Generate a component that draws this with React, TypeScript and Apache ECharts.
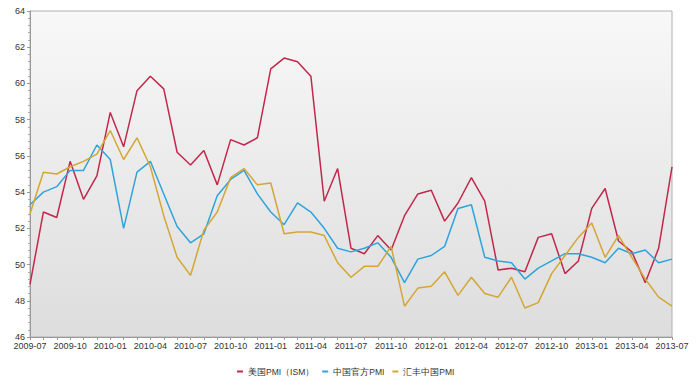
import React, { useEffect, useRef } from "react";
import * as echarts from "echarts";

const months: string[] = [
  "2009-07","2009-08","2009-09","2009-10","2009-11","2009-12",
  "2010-01","2010-02","2010-03","2010-04","2010-05","2010-06","2010-07","2010-08","2010-09","2010-10","2010-11","2010-12",
  "2011-01","2011-02","2011-03","2011-04","2011-05","2011-06","2011-07","2011-08","2011-09","2011-10","2011-11","2011-12",
  "2012-01","2012-02","2012-03","2012-04","2012-05","2012-06","2012-07","2012-08","2012-09","2012-10","2012-11","2012-12",
  "2013-01","2013-02","2013-03","2013-04","2013-05","2013-06","2013-07",
];

const usIsm: number[] = [
  48.9, 52.9, 52.6, 55.7, 53.6, 54.9,
  58.4, 56.5, 59.6, 60.4, 59.7, 56.2, 55.5, 56.3, 54.4, 56.9, 56.6, 57.0,
  60.8, 61.4, 61.2, 60.4, 53.5, 55.3, 50.9, 50.6, 51.6, 50.8, 52.7, 53.9,
  54.1, 52.4, 53.4, 54.8, 53.5, 49.7, 49.8, 49.6, 51.5, 51.7, 49.5, 50.2,
  53.1, 54.2, 51.3, 50.7, 49.0, 50.9, 55.4,
];

const chinaOfficial: number[] = [
  53.3, 54.0, 54.3, 55.2, 55.2, 56.6,
  55.8, 52.0, 55.1, 55.7, 53.9, 52.1, 51.2, 51.7, 53.8, 54.7, 55.2, 53.9,
  52.9, 52.2, 53.4, 52.9, 52.0, 50.9, 50.7, 50.9, 51.2, 50.4, 49.0, 50.3,
  50.5, 51.0, 53.1, 53.3, 50.4, 50.2, 50.1, 49.2, 49.8, 50.2, 50.6, 50.6,
  50.4, 50.1, 50.9, 50.6, 50.8, 50.1, 50.3,
];

const hsbcChina: number[] = [
  52.8, 55.1, 55.0, 55.4, 55.7, 56.1,
  57.4, 55.8, 57.0, 55.4, 52.7, 50.4, 49.4, 51.9, 52.9, 54.8, 55.3, 54.4,
  54.5, 51.7, 51.8, 51.8, 51.6, 50.1, 49.3, 49.9, 49.9, 51.0, 47.7, 48.7,
  48.8, 49.6, 48.3, 49.3, 48.4, 48.2, 49.3, 47.6, 47.9, 49.5, 50.5, 51.5,
  52.3, 50.4, 51.6, 50.4, 49.2, 48.2, 47.7,
];

const seriesNames: string[] = ["美国PMI（ISM）", "中国官方PMI", "汇丰中国PMI"];
const seriesColors: string[] = ["#c2284c", "#2fa4dc", "#d4a633"];

export default function App() {
  const ref = useRef<HTMLDivElement>(null);
  useEffect(() => {
    if (!ref.current) return;
    const chart = echarts.init(ref.current, null, { renderer: "svg" });
    const font = "'Liberation Sans', Arial, sans-serif";
    const data = [usIsm, chinaOfficial, hsbcChina];
    chart.setOption({
      animation: false,
      textStyle: { fontFamily: font },
      grid: {
        left: 30,
        right: 28,
        top: 11,
        bottom: 44,
        show: true,
        borderColor: "#b0b0b0",
        borderWidth: 1,
        backgroundColor: {
          type: "linear",
          x: 0, y: 0, x2: 0, y2: 1,
          colorStops: [
            { offset: 0, color: "#f8f8f8" },
            { offset: 1, color: "#dddddd" },
          ],
        },
      },
      legend: {
        data: seriesNames.map((n, i) => ({ name: n, icon: "rect", itemStyle: { color: seriesColors[i] } })),
        top: 367,
        left: 237,
        padding: 0,
        itemWidth: 6,
        itemHeight: 2,
        itemGap: 8,
        textStyle: { fontSize: 8.5, color: "#333", fontFamily: font },
      },
      xAxis: {
        type: "category",
        data: months,
        boundaryGap: false,
        axisLine: { lineStyle: { color: "#999" } },
        axisTick: { interval: 0, length: 3, lineStyle: { color: "#999" } },
        axisLabel: { interval: 2, fontSize: 9, color: "#333", margin: 4, fontFamily: font },
        splitLine: { show: false },
      },
      yAxis: {
        type: "value",
        min: 46,
        max: 64,
        interval: 2,
        axisLine: { show: true, lineStyle: { color: "#999" } },
        axisTick: { show: true, length: 3, lineStyle: { color: "#999" } },
        minorTick: { show: true, splitNumber: 5, length: 2, lineStyle: { color: "#aaa" } },
        axisLabel: { fontSize: 9, color: "#333", margin: 5, fontFamily: font },
        splitLine: { show: false },
      },
      series: seriesNames.map((n, i) => ({
        name: n,
        type: "line",
        data: data[i],
        showSymbol: false,
        symbol: "none",
        lineStyle: { width: 1.5, color: seriesColors[i] },
        itemStyle: { color: seriesColors[i] },
      })),
    });
    return () => chart.dispose();
  }, []);
  return <div ref={ref} style={{ width: 700, height: 381, position: "absolute", left: 0, top: 0 }} />;
}
